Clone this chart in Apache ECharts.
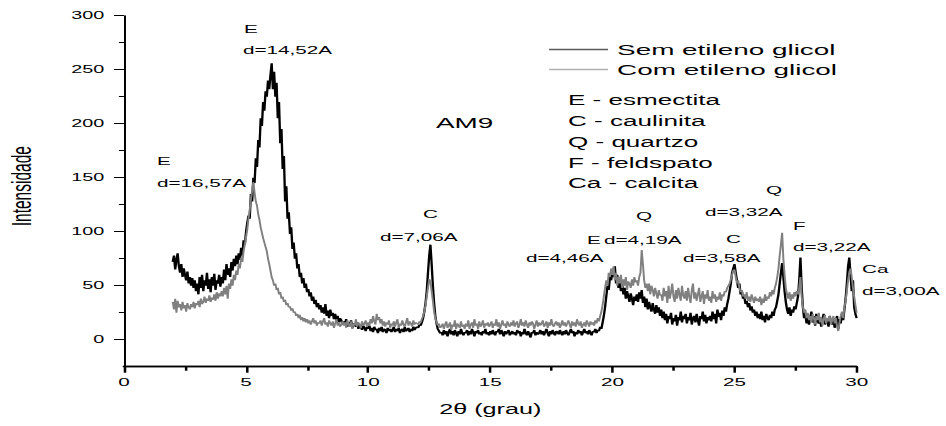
<!DOCTYPE html>
<html>
<head>
<meta charset="utf-8">
<script src="https://cdn.jsdelivr.net/npm/echarts@6/dist/echarts.min.js"></script>
<style>
html,body{margin:0;padding:0;background:#fff;overflow:hidden;}
#wrap{width:946px;height:426px;overflow:hidden;background:#fff;}
#c{width:526px;height:426px;transform:scaleX(1.7985);transform-origin:0 0;}
</style>
</head>
<body>
<div id="wrap"><div id="c"></div></div>
<script>
// measurement grid (2θ, degrees)
const twoThetaStart = 2;
const twoThetaStep = 0.05;

const seriesNames = ['Sem etileno glicol', 'Com etileno glicol'];

// intensities, one row per degree (2.00 ... 29.95) + final point at 30.00
const semEtileno = [
  72,78,65,74,80,68,62,70,58,66,60,55,63,52,58,50,57,48,55,45,
  52,42,58,48,60,45,55,50,62,47,56,44,58,50,61,46,55,52,60,49,
  58,52,65,55,70,60,66,58,72,64,75,68,78,70,80,74,85,78,92,88,
  100,108,115,112,135,128,150,145,168,160,185,178,205,198,220,212,230,225,240,232,
  245,256,232,248,225,238,205,220,182,195,158,170,128,142,112,118,98,104,84,90,
  75,80,66,70,58,62,52,57,48,52,44,47,40,44,36,40,33,37,30,34,
  28,32,25,30,24,33,22,27,20,28,22,25,19,24,17,22,16,20,18,14,
  17,14,19,12,16,13,18,11,15,14,12,16,10,14,12,9,13,11,8,12,
  10,13,8,11,7,12,9,10,6,11,8,12,7,10,9,6,11,8,10,7,
  9,12,7,10,8,11,6,9,10,7,12,8,9,11,7,10,8,12,9,11,
  12,11,14,13,16,20,26,34,45,62,78,88,70,50,34,22,15,10,8,6,
  7,4,9,5,8,3,7,10,5,8,4,9,6,3,8,5,10,6,4,7,
  6,9,4,8,5,10,7,3,8,6,9,5,7,4,8,6,10,5,7,4,
  8,5,9,6,4,8,7,10,5,9,6,3,8,5,7,9,4,6,8,5,
  7,4,9,6,8,3,7,5,10,6,4,8,5,2,7,6,9,4,7,5,
  6,9,5,8,4,7,10,6,3,8,5,9,6,4,8,7,5,9,6,4,
  8,5,9,6,4,7,10,6,8,3,7,5,9,6,8,4,7,10,6,8,
  5,9,6,4,8,7,10,6,9,8,12,10,16,22,30,40,50,46,58,55,
  64,58,68,52,60,48,55,45,52,42,48,38,45,40,35,43,38,32,40,36,
  42,35,44,38,46,34,40,30,38,28,35,30,26,34,28,24,32,25,30,22,
  28,20,26,18,24,15,22,19,25,14,20,17,23,13,21,18,26,16,22,19,
  24,15,21,18,25,14,20,22,16,24,18,13,22,19,26,17,23,15,21,18,
  22,17,26,19,24,15,28,21,25,18,27,22,30,26,33,38,45,52,62,66,
  70,62,55,48,52,42,45,38,40,33,36,30,34,27,31,25,28,22,26,20,
  24,19,26,18,22,16,24,20,18,23,20,26,22,28,30,36,42,52,62,71,
  58,45,35,28,24,30,22,28,25,31,28,34,40,55,76,48,30,20,24,15,
  22,14,20,26,16,22,13,24,18,15,21,12,19,24,14,20,17,12,22,16,
  14,20,11,18,22,10,19,15,24,18,28,38,52,68,76,60,45,55,30,24,
  20
];

const comEtileno = [
  35,28,38,25,36,30,33,27,35,29,32,26,34,30,28,33,30,35,29,34,
  32,36,30,38,33,35,40,34,38,36,41,35,39,37,42,36,44,38,43,40,
  45,40,48,42,50,38,52,47,56,50,60,55,64,60,70,66,76,72,82,88,
  95,102,112,120,130,138,146,136,128,124,116,111,104,99,94,90,86,82,75,70,
  64,58,55,50,52,46,48,42,44,38,40,35,37,32,34,30,31,27,29,25,
  26,22,24,20,23,18,21,17,20,16,19,15,18,14,17,20,15,18,13,16,
  15,18,13,17,20,14,16,12,18,15,13,17,11,15,19,13,16,12,14,17,
  13,16,11,18,14,12,17,10,15,13,19,12,16,14,11,17,13,15,18,12,
  16,13,19,15,22,17,14,24,18,21,15,19,13,17,12,16,14,18,11,15,
  13,17,12,16,19,11,15,13,18,14,12,16,20,13,17,15,12,18,14,16,
  15,14,17,16,19,22,26,32,40,48,56,54,45,36,26,20,16,13,15,11,
  12,15,10,14,17,11,13,16,9,14,12,18,10,15,13,11,17,12,14,10,
  15,12,18,10,14,16,11,19,13,15,10,17,12,14,18,11,15,13,16,12,
  14,17,11,15,13,19,12,16,10,14,18,13,15,11,17,14,12,16,13,18,
  12,15,17,11,14,19,13,16,12,18,14,11,16,13,17,15,10,14,18,12,
  16,13,15,18,12,14,17,11,16,13,19,14,12,15,17,13,16,11,14,18,
  13,16,12,15,18,14,11,17,13,16,12,19,15,13,17,11,14,16,12,18,
  15,12,17,14,16,13,18,15,20,17,22,26,32,40,48,55,50,62,58,66,
  60,68,55,62,50,58,52,60,48,56,50,58,46,54,52,48,56,50,58,53,
  55,50,58,62,83,70,55,48,52,45,52,42,50,46,40,48,43,38,46,41,
  42,36,48,40,45,34,50,38,44,52,40,35,46,38,48,42,36,50,41,38,
  45,36,48,40,34,46,52,38,44,36,42,48,35,40,45,33,42,38,46,36,
  40,34,45,38,42,35,40,37,44,36,42,40,45,44,48,50,52,56,60,64,
  65,58,52,55,48,44,46,40,42,38,44,36,40,35,42,38,34,40,36,38,
  35,40,32,38,34,42,36,40,38,44,40,46,42,48,52,58,66,78,88,99,
  75,60,48,42,38,44,36,42,38,44,40,45,42,48,58,40,30,25,28,20,
  25,18,22,16,24,20,14,22,18,25,16,21,13,19,23,15,20,17,22,14,
  18,22,15,20,12,8,16,22,26,20,30,36,45,55,62,66,58,48,40,32,
  25
];

const xTickLabels = [0, 5, 10, 15, 20, 25, 30];
const xMinorTicks = [2.5, 7.5, 12.5, 17.5, 22.5, 27.5];
const yTickLabels = [0, 50, 100, 150, 200, 250, 300];
const yMinorTicks = [25, 75, 125, 175, 225, 275];

const sampleName = 'AM9';
const mineralKey = ['E - esmectita', 'C - caulinita', 'Q - quartzo', 'F - feldspato', 'Ca - calcita'];
const peakTexts = ['E', 'd=14,52A', 'E', 'd=16,57A', 'C', 'd=7,06A', 'E', 'd=4,19A', 'Q', 'd=4,46A',
                   'C', 'd=3,58A', 'Q', 'd=3,32A', 'F', 'd=3,22A', 'Ca', 'd=3,00A'];

// layout of annotation texts (internal, unscaled px): [x, y] for each peakTexts entry
const peakTextPos = [
  [135.7, 29], [135.1, 50], [87.3, 161], [87.3, 183], [235.2, 214], [211.3, 237],
  [326.4, 240], [335.8, 240], [353.6, 216], [292.5, 258], [403.7, 239], [379.8, 258],
  [425.9, 190], [392.0, 212], [440.9, 226], [440.9, 247], [479.3, 269], [479.3, 291]
];

const FONT = '"Liberation Sans", Arial, sans-serif';

function toPairs(vals) {
  return vals.map((v, i) => [+(twoThetaStart + i * twoThetaStep).toFixed(2), v]);
}

const graphics = [];
peakTexts.forEach((t, i) => {
  graphics.push({type: 'text', x: peakTextPos[i][0], y: peakTextPos[i][1],
    style: {text: t, fontSize: 11.5, fontFamily: FONT, fill: '#000', verticalAlign: 'middle', align: 'left'}});
});
graphics.push({type: 'text', x: 242.4, y: 123,
  style: {text: sampleName, fontSize: 15.5, fontFamily: FONT, fill: '#000', verticalAlign: 'middle'}});
mineralKey.forEach((t, i) => {
  graphics.push({type: 'text', x: 315.8, y: 100 + i * 20.8,
    style: {text: t, fontSize: 14.5, fontFamily: FONT, fill: '#000', verticalAlign: 'middle'}});
});

const chart = echarts.init(document.getElementById('c'), null, {renderer: 'svg', width: 526, height: 426});
chart.setOption({
  animation: false,
  grid: {left: 68.9, right: 49.7, top: 15.7, bottom: 59.3, containLabel: false, outerBoundsMode: 'none'},
  legend: {
    orient: 'vertical', left: 305.3, top: 41, padding: 0,
    icon: 'rect', itemWidth: 32.8, itemHeight: 1.3, itemGap: 3,
    textStyle: {fontSize: 15.5, fontFamily: FONT, color: '#000', lineHeight: 17, padding: [0, 0, 0, 0]},
    data: [
      {name: seriesNames[0], itemStyle: {color: '#5a5a5a'}},
      {name: seriesNames[1], itemStyle: {color: '#b0b0b0'}}
    ]
  },
  xAxis: [{
    type: 'value', min: 0, max: 30, interval: 5, z: 10,
    name: '2θ (grau)', nameLocation: 'middle', nameGap: 35,
    nameTextStyle: {fontSize: 14, fontFamily: FONT, color: '#000'},
    axisLine: {show: true, onZero: false, lineStyle: {color: '#000', width: 1.4}},
    axisTick: {show: true, length: 6, lineStyle: {color: '#000', width: 1.4}},
    axisLabel: {fontSize: 11.5, fontFamily: FONT, color: '#000', margin: 10},
    splitLine: {show: false}
  }, {
    type: 'value', min: 0, max: 30, position: 'bottom', z: 10,
    axisLine: {show: true, onZero: false, lineStyle: {color: '#000', width: 1.4}},
    axisTick: {show: true, length: 4, customValues: xMinorTicks, lineStyle: {color: '#000', width: 1.4}},
    axisLabel: {show: false},
    splitLine: {show: false}
  }],
  yAxis: [{
    type: 'value', min: -25, max: 300,
    name: 'Intensidade', nameLocation: 'middle', nameGap: 49, nameRotate: 90,
    nameTextStyle: {fontSize: 15.5, fontFamily: FONT, color: '#000', padding: [0, 0, 0, 10]},
    axisLine: {show: true, onZero: false, lineStyle: {color: '#000', width: 1.1}},
    axisTick: {show: true, length: 5.5, customValues: yTickLabels, lineStyle: {color: '#000', width: 1}},
    axisLabel: {customValues: yTickLabels, fontSize: 11, fontFamily: FONT, color: '#000', margin: 11},
    splitLine: {show: false}
  }, {
    type: 'value', min: -25, max: 300, position: 'left',
    axisLine: {show: false, onZero: false},
    axisTick: {show: true, length: 2.8, customValues: yMinorTicks, lineStyle: {color: '#000', width: 1}},
    axisLabel: {show: false},
    splitLine: {show: false}
  }],
  series: [
    {name: seriesNames[0], type: 'line', data: toPairs(semEtileno), showSymbol: false, symbol: 'none',
     lineStyle: {color: '#000', width: 1.3}, itemStyle: {color: '#000'}},
    {name: seriesNames[1], type: 'line', data: toPairs(comEtileno), showSymbol: false, symbol: 'none',
     lineStyle: {color: '#808080', width: 1.1}, itemStyle: {color: '#808080'}}
  ],
  graphic: graphics
});
</script>
</body>
</html>
